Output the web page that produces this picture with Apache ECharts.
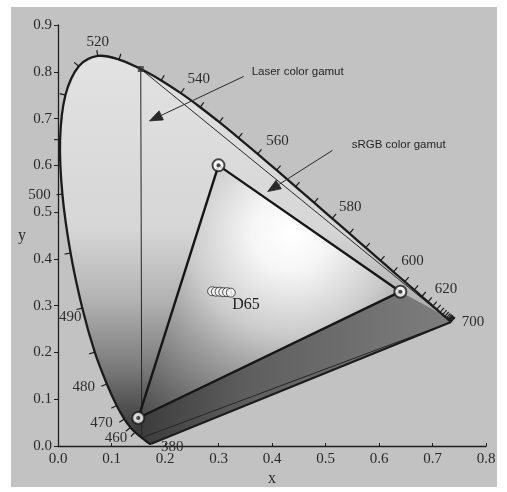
<!DOCTYPE html>
<html>
<head>
<meta charset="utf-8">
<title>CIE 1931 chromaticity diagram</title>
<script src="https://cdn.jsdelivr.net/npm/echarts@6/dist/echarts.min.js"></script>
<style>
  html, body { margin: 0; padding: 0; background: #ffffff; }
  #chart { width: 507px; height: 492px; }
</style>
</head>
<body>
<div id="chart"></div>
<script>
// CIE 1931 2-degree spectral locus (wavelength in nm, chromaticity x, y)
const wavelengths = [380, 385, 390, 395, 400, 405, 410, 415, 420, 425, 430, 435, 440, 445,
  450, 455, 460, 465, 470, 475, 480, 485, 490, 495, 500, 505, 510, 515, 520, 525, 530, 535,
  540, 545, 550, 555, 560, 565, 570, 575, 580, 585, 590, 595, 600, 605, 610, 615, 620, 625,
  630, 635, 640, 645, 650, 655, 660, 665, 670, 680, 690, 700];
const locusX = [0.1741, 0.1740, 0.1738, 0.1736, 0.1733, 0.1730, 0.1726, 0.1721, 0.1714, 0.1703,
  0.1689, 0.1669, 0.1644, 0.1611, 0.1566, 0.1510, 0.1440, 0.1355, 0.1241, 0.1096, 0.0913,
  0.0687, 0.0454, 0.0235, 0.0082, 0.0039, 0.0139, 0.0389, 0.0743, 0.1142, 0.1547, 0.1929,
  0.2296, 0.2658, 0.3016, 0.3373, 0.3731, 0.4087, 0.4441, 0.4788, 0.5125, 0.5448, 0.5752,
  0.6029, 0.6270, 0.6482, 0.6658, 0.6801, 0.6915, 0.7006, 0.7079, 0.7140, 0.7190, 0.7230,
  0.7260, 0.7283, 0.7300, 0.7311, 0.7320, 0.7334, 0.7344, 0.7347];
const locusY = [0.0050, 0.0050, 0.0049, 0.0049, 0.0048, 0.0048, 0.0048, 0.0048, 0.0051, 0.0058,
  0.0069, 0.0086, 0.0109, 0.0138, 0.0177, 0.0227, 0.0297, 0.0399, 0.0578, 0.0868, 0.1327,
  0.2007, 0.2950, 0.4127, 0.5384, 0.6548, 0.7502, 0.8120, 0.8338, 0.8262, 0.8059, 0.7816,
  0.7543, 0.7243, 0.6923, 0.6589, 0.6245, 0.5896, 0.5547, 0.5202, 0.4866, 0.4544, 0.4242,
  0.3965, 0.3725, 0.3514, 0.3340, 0.3197, 0.3083, 0.2993, 0.2920, 0.2859, 0.2809, 0.2770,
  0.2740, 0.2717, 0.2700, 0.2689, 0.2680, 0.2666, 0.2656, 0.2653];

// Wavelengths that are labelled along the locus
const labelNm = [380, 460, 470, 480, 490, 500, 520, 540, 560, 580, 600, 620, 700];
// Wavelengths that get a small tick mark on the locus
const tickNm = [460, 465, 470, 475, 480, 485, 490, 495, 500, 505, 510, 515, 520, 525, 535,
  540, 545, 550, 555, 560, 565, 570, 575, 580, 585, 590, 595, 600, 605, 610, 615, 620, 625,
  630, 635, 640, 645, 650, 655, 660, 665, 670, 680, 690, 700];

// sRGB primaries (R, G, B)
const srgbX = [0.64, 0.30, 0.15];
const srgbY = [0.33, 0.60, 0.06];

// Laser primaries, as wavelengths on the locus (G, R, B)
const laserNm = [530, 700, 450];

// Measured white points around D65
const whiteX = [0.288, 0.295, 0.302, 0.309, 0.316, 0.323];
const whiteY = [0.331, 0.330, 0.330, 0.329, 0.329, 0.328];

// Axis tick labels
const xTickLabels = ['0.0', '0.1', '0.2', '0.3', '0.4', '0.5', '0.6', '0.7', '0.8'];
const yTickLabels = ['0.0', '0.1', '0.2', '0.3', '0.4', '0.5', '0.6', '0.7', '0.8', '0.9'];

// Annotation arrows: text, arrow start, arrow tip (chart units)
const noteText = ['Laser color gamut', 'sRGB color gamut'];
const noteAnchor = [[0.362, 0.800], [0.549, 0.643]];
const noteFrom = [[0.347, 0.790], [0.513, 0.632]];
const noteTip = [[0.171, 0.695], [0.392, 0.544]];

// ---- style settings ----
const labelOffset = {
  380: [21, 3], 460: [-19, 6], 470: [-23, 4], 480: [-23, 3], 490: [-12, 9], 500: [-23, 1],
  520: [0, -14], 540: [18, -14], 560: [20, -13], 580: [18, -11], 600: [19, -11],
  620: [18, -13], 700: [22, 0]
};
const serif = '"Liberation Serif", "DejaVu Serif", serif';
const sans = '"Liberation Sans Narrow", "Liberation Sans", Arial, sans-serif';

function nmPoint(nm) {
  const i = wavelengths.indexOf(nm);
  return [locusX[i], locusY[i]];
}
function locusPixels(api) {
  return wavelengths.map((_, i) => api.coord([locusX[i], locusY[i]]));
}

const chart = echarts.init(document.getElementById('chart'), null, { renderer: 'canvas' });

const option = {
  animation: false,
  backgroundColor: '#ffffff',
  graphic: [{
    type: 'rect', z: -10, silent: true,
    shape: { x: 11, y: 7, width: 486, height: 480 },
    style: { fill: '#c2c2c2' }
  }],
  grid: { left: 58, right: 21, top: 25, bottom: 39 },
  xAxis: {
    type: 'value', min: 0, max: 0.8, interval: 0.1,
    name: 'x', nameLocation: 'middle', nameGap: 24,
    nameTextStyle: { fontFamily: serif, fontSize: 16, color: '#2a2a2a' },
    axisLine: { show: true, lineStyle: { color: '#1e1e1e', width: 1.3 } },
    axisTick: { show: true, inside: true, length: 3, lineStyle: { color: '#1e1e1e' } },
    splitLine: { show: false },
    axisLabel: {
      fontFamily: serif, fontSize: 15, color: '#2a2a2a', margin: 5,
      formatter: v => xTickLabels[Math.round(v * 10)]
    }
  },
  yAxis: {
    type: 'value', min: 0, max: 0.9, interval: 0.1,
    name: 'y', nameLocation: 'middle', nameGap: 32, nameRotate: 0,
    nameTextStyle: { fontFamily: serif, fontSize: 16, color: '#2a2a2a' },
    axisLine: { show: true, lineStyle: { color: '#1e1e1e', width: 1.3 } },
    axisTick: { show: true, inside: false, length: 4, lineStyle: { color: '#1e1e1e' } },
    splitLine: { show: false },
    axisLabel: {
      fontFamily: serif, fontSize: 15, color: '#2a2a2a', margin: 6,
      formatter: v => yTickLabels[Math.round(v * 10)]
    }
  },
  series: [
    // locus body shading
    {
      type: 'custom', z: 1, silent: true, data: [[0, 0]],
      renderItem: (params, api) => ({
        type: 'polygon',
        shape: { points: locusPixels(api) },
        style: {
          fill: new echarts.graphic.LinearGradient(0, 0, 0, 1, [
            { offset: 0, color: '#e2e2e2' },
            { offset: 0.45, color: '#d6d6d6' },
            { offset: 0.63, color: '#b2b2b2' },
            { offset: 0.8, color: '#7c7c7c' },
            { offset: 0.9, color: '#525252' },
            { offset: 1, color: '#343434' }
          ]),
          stroke: null
        }
      })
    },
    // darker band below the sRGB red-blue edge
    {
      type: 'custom', z: 2, silent: true, data: [[0, 0]],
      renderItem: (params, api) => {
        const pts = [api.coord([srgbX[0], srgbY[0]]), api.coord([srgbX[2], srgbY[2]])];
        const i460 = wavelengths.indexOf(460);
        for (let i = i460; i >= 0; i--) pts.push(api.coord([locusX[i], locusY[i]]));
        const n = wavelengths.length;
        for (let i = n - 1; i >= wavelengths.indexOf(640); i--) pts.push(api.coord([locusX[i], locusY[i]]));
        return {
          type: 'polygon',
          shape: { points: pts },
          style: {
            fill: new echarts.graphic.LinearGradient(0, 0, 1, 0, [
              { offset: 0, color: '#3a3a3a' },
              { offset: 0.35, color: '#5e5e5e' },
              { offset: 1, color: '#7e7e7e' }
            ]),
            stroke: null
          }
        };
      }
    },
    // sRGB triangle shading
    {
      type: 'custom', z: 3, silent: true, data: [[0, 0]],
      renderItem: (params, api) => ({
        type: 'polygon',
        shape: { points: srgbX.map((x, i) => api.coord([x, srgbY[i]])) },
        style: {
          fill: new echarts.graphic.RadialGradient(0.58, 0.27, 1.0, [
            { offset: 0, color: '#ffffff' },
            { offset: 0.15, color: '#f6f6f6' },
            { offset: 0.4, color: '#cbcbcb' },
            { offset: 0.56, color: '#a0a0a0' },
            { offset: 0.8, color: '#666666' },
            { offset: 1, color: '#3c3c3c' }
          ]),
          stroke: null
        }
      })
    },
    // laser gamut triangle
    {
      type: 'custom', z: 4, silent: true, data: [[0, 0]],
      renderItem: (params, api) => ({
        type: 'polygon',
        shape: { points: laserNm.map(nm => api.coord(nmPoint(nm))) },
        style: { fill: null, stroke: '#262626', lineWidth: 1 }
      })
    },
    // spectral locus outline (smooth curve) and the purple line
    {
      type: 'custom', z: 5, silent: true, data: [[0, 0]],
      renderItem: (params, api) => {
        const pts = locusPixels(api);
        return {
          type: 'group',
          children: [
            {
              type: 'polyline',
              shape: { points: pts, smooth: 0.35 },
              style: { fill: null, stroke: '#1c1c1c', lineWidth: 2.3, lineJoin: 'round' }
            },
            {
              type: 'line',
              shape: { x1: pts[0][0], y1: pts[0][1], x2: pts[pts.length - 1][0], y2: pts[pts.length - 1][1] },
              style: { stroke: '#1c1c1c', lineWidth: 2 }
            }
          ]
        };
      }
    },
    // sRGB triangle outline
    {
      type: 'custom', z: 6, silent: true, data: [[0, 0]],
      renderItem: (params, api) => ({
        type: 'polygon',
        shape: { points: srgbX.map((x, i) => api.coord([x, srgbY[i]])) },
        style: { fill: null, stroke: '#161616', lineWidth: 2.4, lineJoin: 'round' }
      })
    },
    // wavelength ticks on the locus
    {
      type: 'custom', z: 7, silent: true, data: tickNm.map(nm => nmPoint(nm)),
      renderItem: (params, api) => {
        const nm = tickNm[params.dataIndex];
        const i = wavelengths.indexOf(nm);
        const p = api.coord([locusX[i], locusY[i]]);
        const a = api.coord([locusX[Math.max(i - 1, 0)], locusY[Math.max(i - 1, 0)]]);
        const b = api.coord([locusX[Math.min(i + 1, wavelengths.length - 1)], locusY[Math.min(i + 1, wavelengths.length - 1)]]);
        let tx = b[0] - a[0], ty = b[1] - a[1];
        const len = Math.hypot(tx, ty) || 1;
        tx /= len; ty /= len;
        let nx = -ty, ny = tx;
        const c = api.coord([0.33, 0.33]);
        if (nx * (p[0] - c[0]) + ny * (p[1] - c[1]) < 0) { nx = -nx; ny = -ny; }
        return {
          type: 'line',
          shape: { x1: p[0], y1: p[1], x2: p[0] + nx * 6, y2: p[1] + ny * 6 },
          style: { stroke: '#1c1c1c', lineWidth: 1.2 }
        };
      }
    },
    // wavelength labels
    {
      type: 'custom', z: 8, silent: true, data: labelNm.map(nm => nmPoint(nm)),
      renderItem: (params, api) => {
        const nm = labelNm[params.dataIndex];
        const p = api.coord(nmPoint(nm));
        const o = labelOffset[nm];
        return {
          type: 'text',
          style: {
            text: String(nm), x: p[0] + o[0], y: p[1] + o[1],
            align: 'center', verticalAlign: 'middle',
            font: '15px ' + serif, fill: '#2e2e2e'
          }
        };
      }
    },
    // laser green primary marker
    {
      type: 'scatter', z: 9, silent: true,
      data: [nmPoint(laserNm[0])],
      symbol: 'rect', symbolSize: 6,
      itemStyle: { color: '#333333' }
    },
    // sRGB primaries: ring markers
    {
      type: 'scatter', z: 9, silent: true,
      data: srgbX.map((x, i) => [x, srgbY[i]]),
      symbol: 'circle', symbolSize: 12,
      itemStyle: { color: '#ffffff', borderColor: '#1a1a1a', borderWidth: 2 }
    },
    {
      type: 'scatter', z: 10, silent: true,
      data: srgbX.map((x, i) => [x, srgbY[i]]),
      symbol: 'circle', symbolSize: 4,
      itemStyle: { color: '#222222' }
    },
    // white points near D65
    {
      type: 'scatter', z: 9, silent: true,
      data: whiteX.map((x, i) => [x, whiteY[i]]),
      symbol: 'circle', symbolSize: 9,
      itemStyle: { color: '#f4f4f4', borderColor: '#2a2a2a', borderWidth: 1 }
    },
    {
      type: 'custom', z: 10, silent: true, data: [[0.3127, 0.329]],
      renderItem: (params, api) => {
        const p = api.coord([0.3127, 0.329]);
        return {
          type: 'text',
          style: {
            text: 'D65', x: p[0] + 7, y: p[1] + 13,
            align: 'left', verticalAlign: 'middle',
            font: '16px ' + serif, fill: '#1e1e1e'
          }
        };
      }
    },
    // gamut annotations with arrows
    {
      type: 'custom', z: 11, silent: true, data: noteText.map((_, i) => noteTip[i]),
      renderItem: (params, api) => {
        const i = params.dataIndex;
        const s = api.coord(noteFrom[i]);
        const t = api.coord(noteTip[i]);
        const a = api.coord(noteAnchor[i]);
        let dx = t[0] - s[0], dy = t[1] - s[1];
        const len = Math.hypot(dx, dy);
        dx /= len; dy /= len;
        const L = 13, W = 5;
        const bx = t[0] - dx * L, by = t[1] - dy * L;
        return {
          type: 'group',
          children: [
            {
              type: 'line',
              shape: { x1: s[0], y1: s[1], x2: bx, y2: by },
              style: { stroke: '#2a2a2a', lineWidth: 1 }
            },
            {
              type: 'polygon',
              shape: { points: [t, [bx - dy * W, by + dx * W], [bx + dy * W, by - dx * W]] },
              style: { fill: '#2a2a2a', stroke: '#2a2a2a', lineWidth: 0.8 }
            },
            {
              type: 'text',
              style: {
                text: noteText[i], x: a[0], y: a[1],
                align: 'left', verticalAlign: 'middle',
                font: '11.5px ' + sans, fill: '#262626'
              }
            }
          ]
        };
      }
    }
  ]
};

chart.setOption(option);
</script>
</body>
</html>
